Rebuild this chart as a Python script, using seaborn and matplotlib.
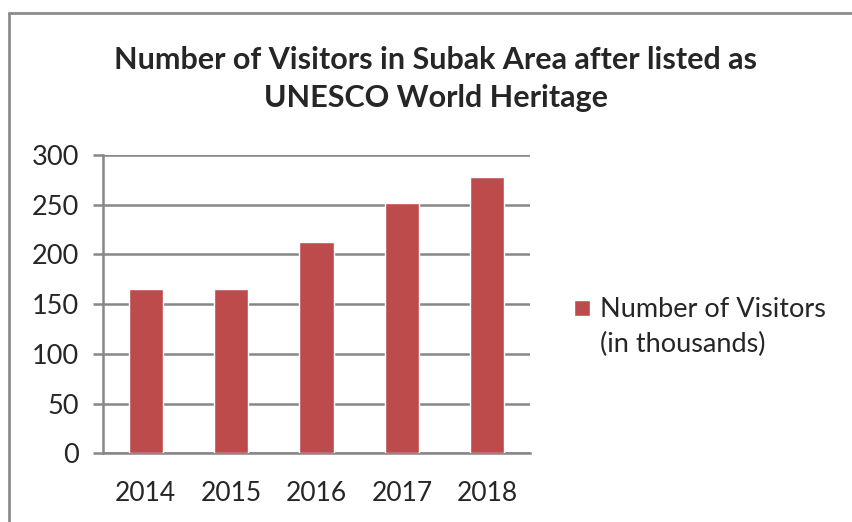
import numpy as np
import pandas as pd
import matplotlib
matplotlib.use("Agg")
import matplotlib.pyplot as plt
from matplotlib.lines import Line2D
import seaborn as sns

# Visitor counts (thousands) per year
years = ["2014", "2015", "2016", "2017", "2018"]
visitors = [165, 165, 213, 252, 278]
series_label = "Number of Visitors\n(in thousands)"
y_ticks = [0, 50, 100, 150, 200, 250, 300]

df = pd.DataFrame({"Year": years, "Visitors": visitors, "Series": series_label})

sns.set_theme(style="white")
plt.rcParams["font.family"] = ["Lato", "DejaVu Sans"]

W, H = 853, 522
fig = plt.figure(figsize=(W / 100, H / 100), dpi=100)
fig.patch.set_facecolor("white")

ax = fig.add_axes([103 / W, 1 - 453.3 / H, (530 - 103) / W, (453.3 - 155) / H])

bar_color = "#BE4B4C"
grid_color = "#878787"
text_color = "#262626"

sns.barplot(data=df, x="Year", y="Visitors", hue="Series", palette=[bar_color],
            width=0.4, saturation=1, ax=ax, legend=True, zorder=3)

ax.set_ylim(0, 300)
ax.set_xlim(-0.5, len(years) - 0.5)
ax.set_yticks(y_ticks)
ax.yaxis.grid(True, color=grid_color, linewidth=1.8, zorder=0)
ax.set_axisbelow(True)
ax.set_xlabel("")
ax.set_ylabel("")

for side in ["top", "right"]:
    ax.spines[side].set_visible(False)
for side in ["left", "bottom"]:
    ax.spines[side].set_color(grid_color)
    ax.spines[side].set_linewidth(1.8)

# category divider ticks below the axis
ax.set_xticks(np.arange(-0.5, len(years)), minor=True)
ax.tick_params(axis="x", which="minor", length=7.5, width=1.8, color=grid_color, direction="out")
ax.tick_params(axis="x", which="major", length=0, pad=20, labelsize=19, labelcolor=text_color)
ax.tick_params(axis="y", which="major", length=7.5, width=1.8, color=grid_color, direction="out",
               pad=10, labelsize=19.5, labelcolor=text_color, left=True)

# legend at the right of the plot
leg = ax.legend(loc="center left", bbox_to_anchor=(550 / W, 1 - 327 / H),
                bbox_transform=fig.transFigure, frameon=False, fontsize=19.5,
                handlelength=0.58, handleheight=0.58, handletextpad=0.35,
                labelspacing=0.2)
for t in leg.get_texts():
    t.set_color(text_color)
    t.set_linespacing(1.45)
# keep the colour square level with the first label line
for h in leg.legend_handles:
    h.set_y(h.get_y() + 14)

fig.text(436 / W, 1 - 79 / H,
         "Number of Visitors in Subak Area after listed as\nUNESCO World Heritage",
         ha="center", va="center", fontsize=22, fontweight="bold",
         color=text_color, linespacing=1.45)

# outer chart frame (top and left edges)
frame_kw = dict(color="#8C8C8C", linewidth=2.0, transform=fig.transFigure)
fig.lines.append(Line2D([9 / W, 1.0], [1 - 13 / H, 1 - 13 / H], **frame_kw))
fig.lines.append(Line2D([9 / W, 9 / W], [0.0, 1 - 13 / H], **frame_kw))

fig.savefig("out.png", dpi=100, facecolor="white")
